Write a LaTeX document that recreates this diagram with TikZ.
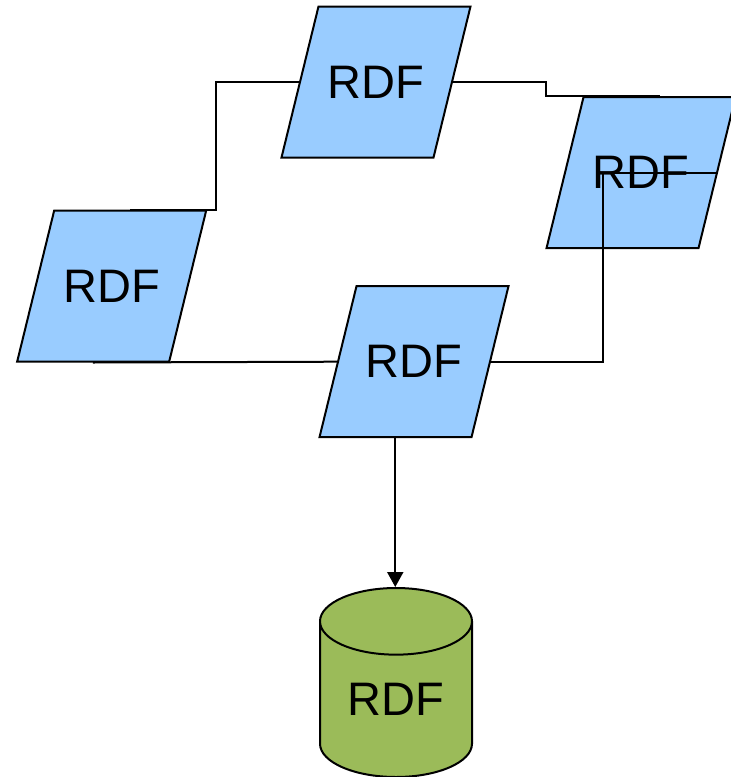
\documentclass[tikz,border=0pt]{standalone}
\usepackage{fontspec}
\setmainfont{Liberation Sans}
\usetikzlibrary{shapes.geometric,arrows.meta}
\definecolor{paraBlue}{HTML}{99CCFF}
\definecolor{dbGreen}{HTML}{9BBB59}
\begin{document}
\begin{tikzpicture}[x=1pt,y=-1pt,
  conn/.style={line width=2pt},
  para/.style={rectangle, xslant=0.245, transform shape,
    minimum width=152pt, minimum height=151pt,
    inner sep=0pt, draw, line width=2pt, fill=paraBlue},
  lbl/.style={inner sep=0pt, font=\fontsize{47}{54}\selectfont},
  db/.style={cylinder, shape border rotate=90, aspect=0.69,
    minimum width=152pt, minimum height=189pt, inner sep=0pt,
    draw, line width=2pt, fill=dbGreen, font=\fontsize{47}{54}\selectfont}]
\useasboundingbox (0,0) rectangle (731,777);
\clip (0,0) rectangle (731,777);
\node[para] (p1) at (376,82) {};
\node[lbl] (t1) at (p1.center) {RDF};
\node[para] (p2) at (641,172.7) {};
\node[lbl] (t2) at (p2.center) {RDF};
\node[para] (p3) at (111.7,286) {};
\node[lbl] (t3) at (p3.center) {RDF};
\node[para] (p4) at (414,361.7) {};
\node[lbl] (t4) at (p4.center) {RDF};
\node[db, anchor=shape center] (d) at (396,682.5) {RDF};
\draw[conn] (p1.west) -| (216,150) |- (p3.north);
\draw[conn] (p3.south) -- (p4.west);
\draw[conn] (p4.east) -| (603,250) |- (p2.east);
\draw[conn] (p1.east) -| (546,90) |- (p2.north);
\draw[conn,-{Triangle[width=16pt,length=15pt]}] (p4.south) -- (p4.south |- d.north);
\end{tikzpicture}
\end{document}
